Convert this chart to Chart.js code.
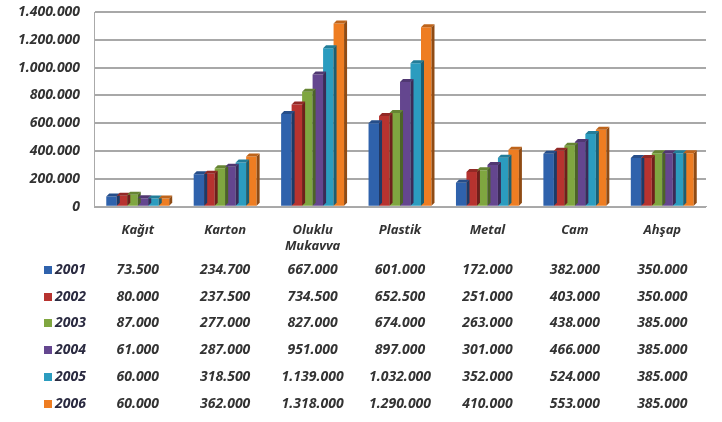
<!DOCTYPE html>
<html><head><meta charset="utf-8">
<script src="https://cdn.jsdelivr.net/npm/chart.js@4"></script>
<style>html,body{margin:0;padding:0;background:#fff}#wrap{width:722px;height:422px;position:relative}</style>
</head><body><div id="wrap"><canvas id="c" width="722" height="422"></canvas></div>
<script>
const categories = [['Kağıt'], ['Karton'], ['Oluklu', 'Mukavva'], ['Plastik'], ['Metal'], ['Cam'], ['Ahşap']];
const years = ['2001', '2002', '2003', '2004', '2005', '2006'];
const v2001 = [73500, 234700, 667000, 601000, 172000, 382000, 350000];
const v2002 = [80000, 237500, 734500, 652500, 251000, 403000, 350000];
const v2003 = [87000, 277000, 827000, 674000, 263000, 438000, 385000];
const v2004 = [61000, 287000, 951000, 897000, 301000, 466000, 385000];
const v2005 = [60000, 318500, 1139000, 1032000, 352000, 524000, 385000];
const v2006 = [60000, 362000, 1318000, 1290000, 410000, 553000, 385000];
const yTicks = [0, 200000, 400000, 600000, 800000, 1000000, 1200000, 1400000];
const colors = ['#2f62ac', '#b7332f', '#7fa640', '#64468f', '#2b9cbf', '#ee7d22'];
const series = [v2001, v2002, v2003, v2004, v2005, v2006];

function fmt(n){ return n.toString().replace(/\B(?=(\d{3})+(?!\d))/g, '.'); }
function shade(hex, f){
  const n = parseInt(hex.slice(1),16);
  let r=(n>>16)&255,g=(n>>8)&255,b=n&255;
  r=Math.round(r*f);g=Math.round(g*f);b=Math.round(b*f);
  return 'rgb('+r+','+g+','+b+')';
}
const FONT = '"Noto Sans", "DejaVu Sans", sans-serif';

const sidePlugin = {
  id: 'side3d',
  afterDatasetsDraw(chart){
    const ctx = chart.ctx;
    chart.data.datasets.forEach((ds, di) => {
      const meta = chart.getDatasetMeta(di);
      meta.data.forEach(bar => {
        const w = bar.width, x1 = bar.x + w/2, top = bar.y, base = bar.base;
        const d = 3;
        ctx.save();
        ctx.fillStyle = shade(colors[di], 0.6);
        ctx.beginPath();
        ctx.moveTo(x1, top); ctx.lineTo(x1+d, top-d); ctx.lineTo(x1+d, base-d); ctx.lineTo(x1, base);
        ctx.closePath(); ctx.fill();
        ctx.fillStyle = shade(colors[di], 0.8);
        ctx.beginPath();
        ctx.moveTo(x1-w, top); ctx.lineTo(x1-w+d, top-d); ctx.lineTo(x1+d, top-d); ctx.lineTo(x1, top);
        ctx.closePath(); ctx.fill();
        ctx.restore();
      });
    });
  }
};

const tablePlugin = {
  id: 'dataTable',
  afterDraw(chart){
    const ctx = chart.ctx, xs = chart.scales.x;
    const rowY = [270, 297, 323, 350, 377, 404];
    ctx.save();
    ctx.font = 'italic bold 14px ' + FONT;
    ctx.textBaseline = 'middle';
    series.forEach((vals, si) => {
      const y = rowY[si];
      ctx.fillStyle = colors[si];
      ctx.fillRect(44, y-4, 8, 8);
      ctx.fillStyle = '#2a2a40';
      ctx.textAlign = 'left';
      ctx.fillText(years[si], 55, y);
      ctx.fillStyle = '#333';
      ctx.textAlign = 'center';
      vals.forEach((v, i) => ctx.fillText(fmt(v), xs.getPixelForValue(i), y));
    });
    ctx.restore();
  }
};

new Chart(document.getElementById('c'), {
  type: 'bar',
  data: {
    labels: categories,
    datasets: series.map((vals, i) => ({
      label: years[i], data: vals, backgroundColor: colors[i],
      borderWidth: 0, categoryPercentage: 0.72, barPercentage: 1.0
    }))
  },
  options: {
    responsive: false, animation: false,
    layout: { padding: { left: 4, right: 16, top: 12, bottom: 160 } },
    plugins: { legend: { display: false }, tooltip: { enabled: false } },
    scales: {
      x: {
        grid: { display: false },
        border: { color: '#aaa', width: 1 },
        ticks: { color: '#333', font: { family: FONT, size: 13, style: 'italic', weight: 'bold' }, padding: 8, maxRotation: 0 }
      },
      y: {
        min: 0, max: 1400000,
        afterBuildTicks(axis){ axis.ticks = yTicks.map(v => ({ value: v })); },
        afterFit(axis){ axis.paddingTop = 0; },
        grid: { color: '#a8a8a8', lineWidth: 2, drawTicks: false },
        border: { display: true, color: '#aaa' },
        ticks: { color: '#333', font: { family: FONT, size: 14, style: 'italic', weight: 'bold' }, padding: 14, callback: v => fmt(v) }
      }
    }
  },
  plugins: [sidePlugin, tablePlugin]
});
</script></body></html>
